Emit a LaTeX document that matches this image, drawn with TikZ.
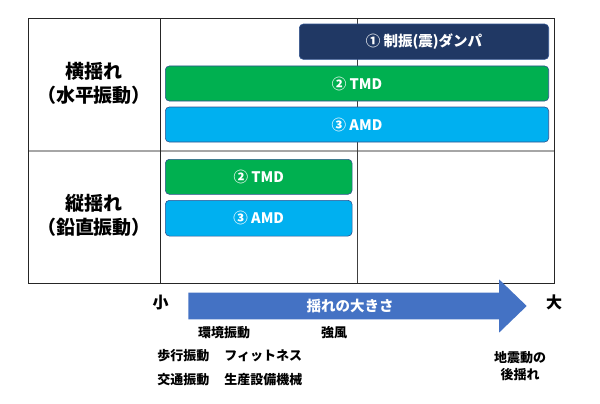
\documentclass[tikz,border=0pt]{standalone}
\usepackage{fontspec}
\setmainfont{Noto Sans CJK JP}
\definecolor{navybar}{HTML}{203864}
\definecolor{greenbar}{HTML}{00B050}
\definecolor{bluebar}{HTML}{00B0F0}
\definecolor{arrowblue}{HTML}{4472C4}
\definecolor{barline}{HTML}{2F528F}
\definecolor{gridline}{HTML}{262626}
\definecolor{midline}{HTML}{404040}
\definecolor{lightline}{HTML}{A6A6A6}
\tikzset{
  bar/.style={rectangle, rounded corners=4pt, draw=barline, line width=0.6pt,
    text=white, font=\fontsize{14.5}{17}\selectfont\bfseries, inner sep=0pt},
  hdr/.style={inner sep=0pt, align=center, font=\fontsize{19}{24.8}\selectfont\bfseries},
  endlbl/.style={inner sep=0pt, font=\fontsize{16}{19}\selectfont\bfseries},
  lbl/.style={inner sep=0pt, align=center, font=\fontsize{13}{17}\selectfont\bfseries},
  frame/.style={draw=gridline, line width=1pt},
}
\begin{document}
\begin{tikzpicture}[x=1pt,y=-1pt]
\useasboundingbox (0,0) rectangle (600,404);
% table
\coordinate (tl) at (28.7,18.7);
\coordinate (br) at (554,283);
\coordinate (dtop) at (160,18.7);
\coordinate (dbot) at (160,283);
\coordinate (mtop) at (357.7,18.7);
\coordinate (mbot) at (357.7,283);
\coordinate (hl) at (28.7,151);
\coordinate (hr) at (554,151);
\draw[lightline, line width=1.2pt] (hl) -- (hr);
\draw[midline, line width=1pt] (mtop) -- (mbot);
\draw[frame] (dtop) -- (dbot);
\draw[frame] (tl) rectangle (br);
% row headers
\node[hdr] (h1) at (94,83.4) {横揺れ\\（水平振動）};
\node[hdr] (h2) at (94,215.4) {縦揺れ\\（鉛直振動）};
% bars
\node[bar, fill=navybar, minimum width=249.4pt, minimum height=35.3pt] (b1) at (424,41.7) {① 制振(震)ダンパ};
\node[bar, fill=greenbar, minimum width=383.4pt, minimum height=35pt] (b2) at (357,83.5) {② TMD};
\node[bar, fill=bluebar, minimum width=383.4pt, minimum height=35pt] (b3) at (357,124.5) {③ AMD};
\node[bar, fill=greenbar, minimum width=186.7pt, minimum height=35pt] (b4) at (258.7,176.8) {② TMD};
\node[bar, fill=bluebar, minimum width=186.7pt, minimum height=35.7pt] (b5) at (258.7,218.2) {③ AMD};
% arrow
\fill[arrowblue] (188.3,292.7) -- (499,292.7) -- (499,279.3) -- (526.7,306)
  -- (499,332.7) -- (499,319.3) -- (188.3,319.3) -- cycle;
\node[inner sep=0pt, text=white, font=\fontsize{14.5}{17}\selectfont\bfseries] (arr) at (350,306) {揺れの大きさ};
\node[endlbl] (small) at (160.7,302.7) {小};
\node[endlbl] (large) at (554,302.7) {大};
% labels
\node[lbl] (l1) at (224,332.3) {環境振動};
\node[lbl] (l2) at (334,332.3) {強風};
\node[lbl] (l3) at (183.3,356) {歩行振動};
\node[lbl] (l4) at (263.3,356) {フィットネス};
\node[lbl] (l5) at (183.3,379.3) {交通振動};
\node[lbl] (l6) at (263.3,379.3) {生産設備機械};
\node[lbl] (l7) at (520,365.8) {地震動の\\後揺れ};
\end{tikzpicture}
\end{document}
